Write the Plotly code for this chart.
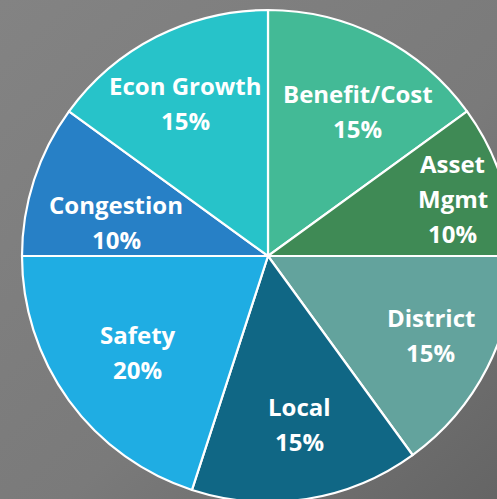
import math
import base64
import plotly.graph_objects as go

# ---- data ----
labels = ["Benefit/Cost", "Asset\nMgmt", "District", "Local", "Safety", "Congestion", "Econ Growth"]
values = [15, 10, 15, 15, 20, 10, 15]
colors = ["#43BA96", "#3F8A55", "#63A39D", "#106785", "#1FADE3", "#2780C6", "#27C3C9"]
# label block placement: radius fraction and angle nudge (deg) - style only
label_radius = [0.695, 0.788, 0.736, 0.694, 0.657, 0.633, 0.709]
label_nudge = [4.7, 0.6, -1.1, -1.5, -0.4, -5.4, -1.4]

W, H = 536, 512
ML, MR, MT, MB = 22, 22, 10, 10
PW, PH = W - ML - MR, H - MT - MB
R = min(PW, PH) / 2
CX, CY = ML + PW / 2, MT + PH / 2

fig = go.Figure(go.Pie(
    labels=[l.replace("\n", " ") for l in labels],
    values=values,
    sort=False,
    direction="clockwise",
    rotation=0,
    marker=dict(colors=colors, line=dict(color="white", width=2.2)),
    textinfo="none",
    hoverinfo="label+percent",
    showlegend=False,
    domain=dict(x=[0, 1], y=[0, 1]),
))

# labels placed at slice mid-angles
total = sum(values)
cum = 0
annotations = []
line_gap = 35
for lab, v, fr, nd in zip(labels, values, label_radius, label_nudge):
    mid = (cum + v / 2) / total * 2 * math.pi + math.radians(nd)
    cum += v
    px = CX + fr * R * math.sin(mid)
    py = CY - fr * R * math.cos(mid)
    lines = lab.split("\n") + [f"{round(v / total * 100)}%"]
    n = len(lines)
    for i, t in enumerate(lines):
        ly = py + (i - (n - 1) / 2) * line_gap
        annotations.append(dict(
            x=(px - ML) / PW, y=1 - (ly - MT) / PH,
            xref="paper", yref="paper",
            text=f"<b>{t}</b>", showarrow=False,
            xanchor="center", yanchor="middle",
            font=dict(family="Open Sans", size=24, color="white"),
        ))

svg = f'''<svg xmlns="http://www.w3.org/2000/svg" width="{W}" height="{H}" viewBox="0 0 {W} {H}" preserveAspectRatio="none">
<defs><linearGradient id="g" x1="0" y1="0" x2="1" y2="1">
<stop offset="0" stop-color="#838383"/><stop offset="0.55" stop-color="#7a7a7a"/><stop offset="1" stop-color="#626262"/>
</linearGradient></defs><rect width="{W}" height="{H}" fill="url(#g)"/></svg>'''
src = "data:image/svg+xml;base64," + base64.b64encode(svg.encode()).decode()

fig.update_layout(
    width=W, height=H,
    margin=dict(l=ML, r=MR, t=MT, b=MB),
    paper_bgcolor="#777777",
    plot_bgcolor="rgba(0,0,0,0)",
    annotations=annotations,
    images=[dict(source=src, xref="paper", yref="paper",
                 x=-ML / PW, y=1 + MT / PH, sizex=W / PW, sizey=H / PH,
                 xanchor="left", yanchor="top", sizing="stretch", layer="below")],
)

fig.write_html("out.html", post_script="document.documentElement.style.overflow='hidden';document.body.style.overflow='hidden';document.body.style.margin='0';")
